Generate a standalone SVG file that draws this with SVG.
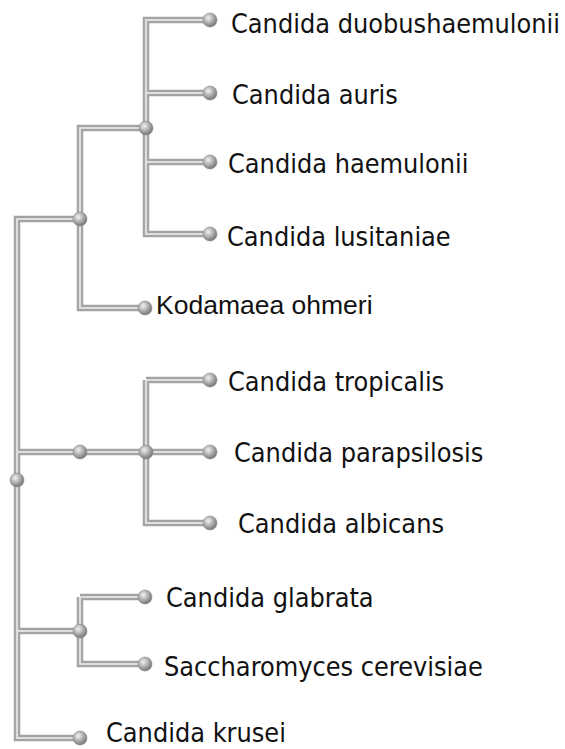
<svg xmlns="http://www.w3.org/2000/svg" width="565" height="749" viewBox="0 0 565 749">
<defs>
<radialGradient id="ball" cx="0.38" cy="0.35" r="0.7">
<stop offset="0" stop-color="#f2f2f2"/>
<stop offset="0.55" stop-color="#a8a8a8"/>
<stop offset="1" stop-color="#6e6e6e"/>
</radialGradient>
<style>
.o{fill:none;stroke:#a3a3a3;stroke-width:6.5;stroke-linejoin:miter;stroke-linecap:butt}
.i{fill:none;stroke:#dedede;stroke-width:2.2;stroke-linejoin:miter;stroke-linecap:butt}
.n{fill:url(#ball);stroke:#8a8a8a;stroke-width:0.6}
.t{font-family:"DejaVu Sans Condensed","DejaVu Sans",sans-serif;font-stretch:condensed;font-size:26.8px;fill:#111}
.k{font-family:"Liberation Sans",Arial,sans-serif;font-size:26.5px;fill:#111}
</style>
</defs>
<rect width="565" height="749" fill="#fff"/>
<g id="connectors">
<g class="o">
<path d="M210,20 H146 V234 H210 M146,93 H210 M146,162 H210 M146,128 H80 V308 H145 M80,219 H17 V738 H80 M17,452 H210 M146,380 V523 H210 M146,380 H210 M17,631 H80 M80,597 V664 H145 M80,597 H145"/>
</g>
<g class="i">
<path d="M210,20 H146 V234 H210 M146,93 H210 M146,162 H210 M146,128 H80 V308 H145 M80,219 H17 V738 H80 M17,452 H210 M146,380 V523 H210 M146,380 H210 M17,631 H80 M80,597 V664 H145 M80,597 H145"/>
</g>
</g>
<g id="internal-nodes">
<circle id="n-aurisclade" class="n" cx="146" cy="128" r="7"/>
<circle id="n-clavispora" class="n" cx="80" cy="219" r="7"/>
<circle id="n-middle" class="n" cx="80" cy="452" r="7"/>
<circle id="n-albicansclade" class="n" cx="146" cy="452" r="7"/>
<circle id="n-root" class="n" cx="17" cy="480" r="7"/>
<circle id="n-glabrata" class="n" cx="80" cy="631" r="7"/>
</g>
<g id="leaf-duobushaemulonii"><circle class="n" cx="210" cy="20" r="7"/><text class="t" x="231" y="33">Candida duobushaemulonii</text></g>
<g id="leaf-auris"><circle class="n" cx="210" cy="93" r="7"/><text class="t" x="232" y="104">Candida auris</text></g>
<g id="leaf-haemulonii"><circle class="n" cx="210" cy="162" r="7"/><text class="t" x="228" y="173">Candida haemulonii</text></g>
<g id="leaf-lusitaniae"><circle class="n" cx="210" cy="234" r="7"/><text class="t" x="227" y="246">Candida lusitaniae</text></g>
<g id="leaf-kodamaea"><circle class="n" cx="145" cy="308" r="7"/><text class="k" x="156" y="314">Kodamaea ohmeri</text></g>
<g id="leaf-tropicalis"><circle class="n" cx="210" cy="380" r="7"/><text class="t" x="228" y="391">Candida tropicalis</text></g>
<g id="leaf-parapsilosis"><circle class="n" cx="210" cy="452" r="7"/><text class="t" x="234" y="462">Candida parapsilosis</text></g>
<g id="leaf-albicans"><circle class="n" cx="210" cy="523" r="7"/><text class="t" x="238" y="533">Candida albicans</text></g>
<g id="leaf-glabrata"><circle class="n" cx="145" cy="597" r="7"/><text class="t" x="166" y="607">Candida glabrata</text></g>
<g id="leaf-cerevisiae"><circle class="n" cx="145" cy="664" r="7"/><text class="t" x="164" y="676">Saccharomyces cerevisiae</text></g>
<g id="leaf-krusei"><circle class="n" cx="80" cy="738" r="7"/><text class="t" x="106" y="742">Candida krusei</text></g>
</svg>
